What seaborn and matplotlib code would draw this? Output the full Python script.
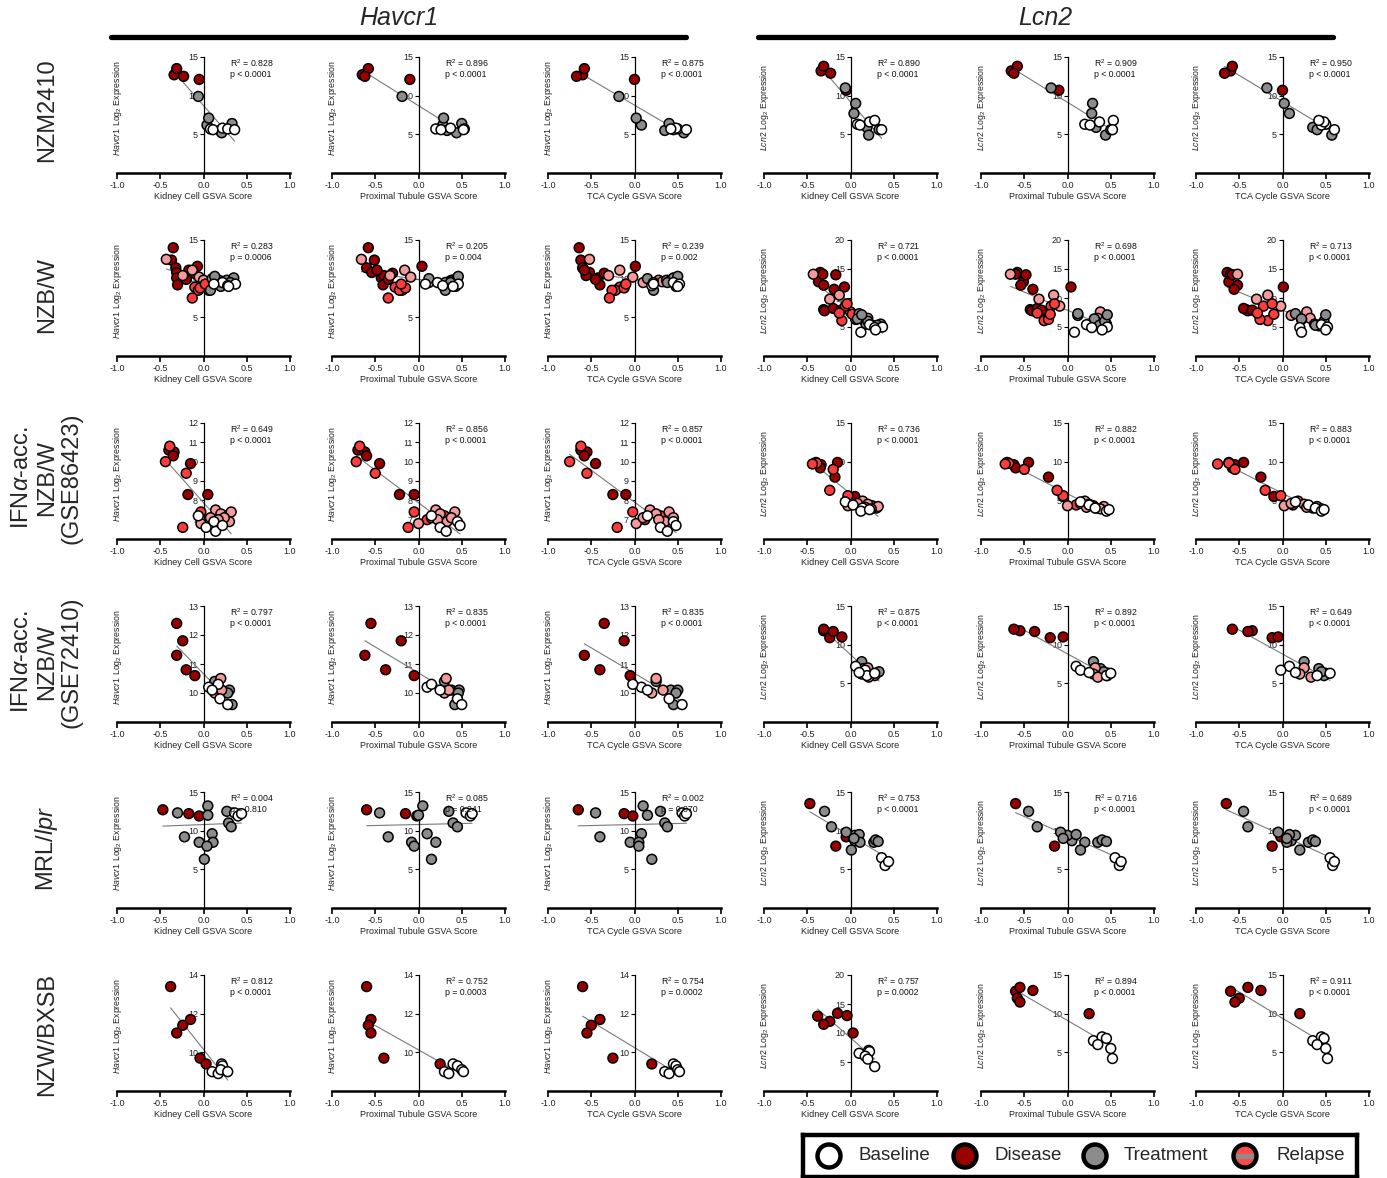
import numpy as np
import pandas as pd
import matplotlib
matplotlib.use("Agg")
import matplotlib.pyplot as plt
from matplotlib.lines import Line2D
from matplotlib.patches import Circle, Rectangle
import seaborn as sns

sns.set_theme(style="white")
plt.rcParams["font.family"] = ["Liberation Sans", "DejaVu Sans"]
plt.rcParams["mathtext.fontset"] = "custom"
plt.rcParams["mathtext.rm"] = "Liberation Sans"
plt.rcParams["mathtext.it"] = "Liberation Sans:italic"
plt.rcParams["mathtext.bf"] = "Liberation Sans:bold"

# ---------------- data ----------------
# group codes: B baseline, D disease, T treatment, R relapse, L relapse (late)
nzm_group = ["D", "D", "D", "D", "T", "T", "T", "T", "T", "T", "B", "B", "B", "B", "B"]
nzm_kidney = [-0.34, -0.31, -0.23, -0.05, -0.06, 0.04, 0.06, 0.19, 0.21, 0.33, 0.08, 0.11, 0.22, 0.28, 0.36]
nzm_pt = [-0.65, -0.58, -0.62, -0.10, -0.19, 0.28, 0.29, 0.33, 0.44, 0.50, 0.20, 0.26, 0.37, 0.53, 0.52]
nzm_tca = [-0.60, -0.58, -0.67, 0.00, -0.18, 0.08, 0.02, 0.35, 0.57, 0.40, 0.50, 0.45, 0.48, 0.42, 0.60]
nzm_havcr1 = [12.7, 13.5, 12.5, 12.1, 9.9, 6.2, 7.1, 5.5, 5.2, 6.4, 5.7, 5.6, 5.8, 5.7, 5.6]
nzm_lcn2 = [13.2, 13.8, 12.9, 10.7, 11.0, 7.7, 9.0, 5.9, 4.9, 5.6, 6.3, 6.2, 6.6, 6.8, 5.6]

nzbw_group = (["D"] * 11) + (["L"] * 7) + (["R"] * 6) + (["T"] * 9) + (["B"] * 5)
nzbw_kidney = [-0.35, -0.37, -0.32, -0.31, -0.31, -0.30, -0.19, -0.17, -0.07, -0.20, -0.11,
               -0.43, -0.13, -0.24, -0.05, 0.05, 0.00, 0.20,
               -0.10, -0.06, 0.06, -0.13, -0.04, 0.02,
               0.10, 0.14, 0.08, 0.18, 0.27, 0.35, 0.31, 0.20, 0.13,
               0.22, 0.28, 0.37, 0.12, 0.29]
nzbw_pt = [-0.58, -0.51, -0.60, -0.54, -0.43, -0.41, -0.40, -0.48, 0.04, -0.35, -0.30,
           -0.66, -0.16, -0.33, -0.09, 0.12, 0.38, 0.35,
           -0.27, -0.19, -0.22, -0.35, -0.15, -0.20,
           0.12, 0.31, 0.31, 0.40, 0.43, 0.45, 0.37, 0.43, 0.46,
           0.22, 0.28, 0.46, 0.08, 0.40]
nzbw_tca = [-0.64, -0.62, -0.60, -0.52, -0.42, -0.40, -0.56, -0.58, 0.01, -0.45, -0.35,
            -0.52, -0.17, -0.30, -0.02, 0.10, 0.28, 0.32,
            -0.17, -0.22, -0.26, -0.29, -0.12, -0.10,
            0.15, 0.22, 0.22, 0.37, 0.42, 0.45, 0.38, 0.48, 0.50,
            0.45, 0.20, 0.52, 0.22, 0.50]
nzbw_havcr1 = [14.0, 12.4, 11.4, 10.8, 10.1, 9.2, 10.4, 11.1, 11.6, 9.9, 10.7,
               12.5, 11.1, 10.4, 10.2, 9.5, 9.8, 9.6,
               8.9, 8.5, 8.5, 7.5, 8.8, 9.3,
               10.0, 9.5, 8.5, 9.8, 9.8, 10.1, 9.5, 9.0, 10.3,
               9.5, 9.1, 9.3, 9.3, 9.0]
nzbw_lcn2 = [14.4, 12.8, 14.1, 12.2, 8.0, 7.8, 11.5, 14.0, 11.9, 8.2, 7.9,
             14.1, 10.5, 9.8, 8.6, 7.0, 7.6, 6.5,
             6.1, 8.6, 6.3, 7.4, 9.0, 7.2,
             7.3, 6.3, 6.4, 5.5, 5.2, 5.5, 5.3, 6.0, 7.1,
             5.4, 4.9, 5.0, 4.1, 4.5]

gse86_group = (["D"] * 6) + (["R"] * 7) + (["L"] * 8) + (["B"] * 5)
gse86_kidney = [-0.40, -0.34, -0.35, -0.15, -0.18, 0.05,
                -0.39, -0.44, -0.20, -0.03, -0.24, 0.08, 0.25,
                -0.03, 0.14, 0.08, 0.20, 0.30, 0.32, 0.24, 0.17,
                -0.06, 0.03, 0.14, 0.12, 0.22]
gse86_pt = [-0.70, -0.62, -0.60, -0.45, -0.22, -0.05,
            -0.68, -0.72, -0.50, -0.05, -0.12, 0.10, 0.30,
            0.00, 0.20, 0.15, 0.25, 0.33, 0.42, 0.38, 0.22,
            0.15, 0.25, 0.32, 0.45, 0.48]
gse86_tca = [-0.62, -0.55, -0.58, -0.45, -0.25, -0.10,
             -0.62, -0.75, -0.55, -0.02, -0.20, 0.12, 0.30,
             0.02, 0.18, 0.10, 0.25, 0.35, 0.40, 0.45, 0.28,
             0.15, 0.30, 0.38, 0.45, 0.48]
gse86_havcr1 = [10.6, 10.5, 10.3, 9.9, 8.3, 8.3,
                10.8, 10.0, 9.4, 7.4, 6.6, 7.0, 7.2,
                6.8, 7.5, 7.1, 7.3, 6.9, 7.4, 7.1, 7.0,
                7.2, 6.6, 6.4, 6.9, 6.7]
gse86_lcn2 = [9.9, 9.6, 9.2, 9.9, 8.0, 5.5,
              9.8, 9.7, 9.0, 5.6, 6.3, 4.4, 4.3,
              4.3, 4.9, 4.6, 4.5, 4.0, 4.2, 3.9, 4.1,
              4.8, 4.4, 4.0, 3.6, 3.8]

gse72_group = (["D"] * 5) + (["T"] * 5) + (["L"] * 3) + (["B"] * 5)
gse72_kidney = [-0.31, -0.24, -0.31, -0.20, -0.10,
                0.13, 0.15, 0.30, 0.28, 0.33,
                0.20, 0.13, 0.21,
                0.06, 0.17, 0.19, 0.28, 0.10]
gse72_pt = [-0.55, -0.20, -0.62, -0.38, -0.05,
            0.30, 0.38, 0.47, 0.46, 0.42,
            0.32, 0.30, 0.35,
            0.10, 0.15, 0.45, 0.50, 0.25]
gse72_tca = [-0.35, -0.12, -0.58, -0.40, -0.05,
             0.25, 0.42, 0.50, 0.48, 0.45,
             0.25, 0.20, 0.33,
             0.08, -0.02, 0.40, 0.55, 0.15]
gse72_havcr1 = [12.4, 11.8, 11.3, 10.8, 10.6,
                10.4, 10.1, 10.1, 10.0, 9.6,
                10.5, 10.0, 10.1,
                10.2, 10.3, 9.8, 9.6, 10.1]
gse72_lcn2 = [11.8, 10.9, 12.0, 11.7, 11.0,
              7.8, 6.9, 6.3, 6.0, 6.5,
              7.0, 6.2, 5.8,
              7.2, 6.7, 6.0, 6.3, 6.4]

mrl_group = (["D"] * 3) + (["T"] * 12) + (["B"] * 3)
mrl_kidney = [-0.47, -0.17, -0.05,
              -0.30, 0.05, 0.05, 0.27, 0.29, 0.32, -0.22, 0.10, -0.05, 0.11, 0.04, 0.01,
              0.36, 0.40, 0.44]
mrl_pt = [-0.60, -0.15, -0.02,
          -0.45, 0.05, 0.00, 0.35, 0.40, 0.45, -0.35, 0.10, -0.08, 0.20, -0.05, 0.15,
          0.55, 0.60, 0.62]
mrl_tca = [-0.65, -0.12, -0.02,
           -0.45, 0.10, 0.15, 0.30, 0.35, 0.38, -0.40, 0.08, -0.05, 0.05, 0.05, 0.20,
           0.55, 0.58, 0.60]
mrl_havcr1 = [12.7, 12.2, 11.9,
              12.3, 13.2, 12.0, 12.5, 11.0, 10.5, 9.2, 9.6, 8.5, 8.5, 8.0, 6.3,
              12.3, 11.9, 12.2]
mrl_lcn2 = [13.5, 8.0, 9.2,
            12.5, 8.7, 9.4, 8.5, 8.8, 8.6, 10.5, 9.5, 9.8, 8.5, 9.0, 7.5,
            6.5, 5.5, 6.0]

bxsb_group = (["D"] * 6) + (["B"] * 6)
bxsb_kidney = [-0.38, -0.15, -0.24, -0.31, -0.04, 0.03, 0.10, 0.21, 0.22, 0.17, 0.20, 0.28]
bxsb_pt = [-0.60, -0.55, -0.58, -0.55, -0.40, 0.25, 0.30, 0.40, 0.45, 0.35, 0.50, 0.52]
bxsb_tca = [-0.60, -0.40, -0.50, -0.55, -0.25, 0.20, 0.35, 0.45, 0.48, 0.40, 0.50, 0.52]
bxsb_havcr1 = [13.4, 11.7, 11.4, 11.0, 9.7, 9.4, 9.0, 9.4, 9.3, 8.9, 9.1, 9.0]
bxsb_lcn2 = [12.9, 13.4, 12.0, 11.5, 13.0, 10.0, 6.5, 7.0, 6.8, 6.0, 5.5, 4.2]

# statistics printed in each panel (Havcr1 x3, Lcn2 x3)
nzm_r2 = ["0.828", "0.896", "0.875", "0.890", "0.909", "0.950"]
nzm_p = ["p < 0.0001"] * 6
nzbw_r2 = ["0.283", "0.205", "0.239", "0.721", "0.698", "0.713"]
nzbw_p = ["p = 0.0006", "p = 0.004", "p = 0.002", "p < 0.0001", "p < 0.0001", "p < 0.0001"]
gse86_r2 = ["0.649", "0.856", "0.857", "0.736", "0.882", "0.883"]
gse86_p = ["p < 0.0001"] * 6
gse72_r2 = ["0.797", "0.835", "0.835", "0.875", "0.892", "0.649"]
gse72_p = ["p < 0.0001"] * 6
mrl_r2 = ["0.004", "0.085", "0.002", "0.753", "0.716", "0.689"]
mrl_p = ["p = 0.810", "p = 0.241", "p = 0.870", "p < 0.0001", "p < 0.0001", "p < 0.0001"]
bxsb_r2 = ["0.812", "0.752", "0.754", "0.757", "0.894", "0.911"]
bxsb_p = ["p < 0.0001", "p = 0.0003", "p = 0.0002", "p = 0.0002", "p < 0.0001", "p < 0.0001"]

row_labels = ["NZM2410", "NZB/W", "IFN$\\alpha$-acc.\nNZB/W\n(GSE86423)",
              "IFN$\\alpha$-acc.\nNZB/W\n(GSE72410)", "MRL/$\\it{lpr}$", "NZW/BXSB"]
genes = ["Havcr1", "Lcn2"]
score_labels = ["Kidney Cell GSVA Score", "Proximal Tubule GSVA Score", "TCA Cycle GSVA Score"]
legend_labels = ["Baseline", "Disease", "Treatment", "Relapse"]

# ---------------- assemble ----------------
datasets = [
    (nzm_group, nzm_kidney, nzm_pt, nzm_tca, nzm_havcr1, nzm_lcn2, nzm_r2, nzm_p),
    (nzbw_group, nzbw_kidney, nzbw_pt, nzbw_tca, nzbw_havcr1, nzbw_lcn2, nzbw_r2, nzbw_p),
    (gse86_group, gse86_kidney, gse86_pt, gse86_tca, gse86_havcr1, gse86_lcn2, gse86_r2, gse86_p),
    (gse72_group, gse72_kidney, gse72_pt, gse72_tca, gse72_havcr1, gse72_lcn2, gse72_r2, gse72_p),
    (mrl_group, mrl_kidney, mrl_pt, mrl_tca, mrl_havcr1, mrl_lcn2, mrl_r2, mrl_p),
    (bxsb_group, bxsb_kidney, bxsb_pt, bxsb_tca, bxsb_havcr1, bxsb_lcn2, bxsb_r2, bxsb_p),
]

palette = {"B": "#FFFFFF", "D": "#990000", "T": "#8C8C8C", "R": "#FF3B3B", "L": "#F49A9A"}
group_order = ["B", "T", "D", "L", "R"]

# y-axis layout per (row, gene): (lower, upper, ticks)
Y15 = (0, 15, [5, 10, 15])
Y20 = (0, 20, [5, 10, 15, 20])
y_axes = {
    (0, 0): Y15, (0, 1): Y15,
    (1, 0): Y15, (1, 1): Y20,
    (2, 0): (6, 12, [7, 8, 9, 10, 11, 12]), (2, 1): Y15,
    (3, 0): (9, 13, [10, 11, 12, 13]), (3, 1): Y15,
    (4, 0): Y15, (4, 1): Y15,
    (5, 0): (8, 14, [10, 12, 14]), (5, 1): Y15,
}
y_axes_override = {(5, 3): Y20}
bold_rows = {0, 2}

W, H = 1387, 1178
fig = plt.figure(figsize=(W / 100, H / 100), dpi=100)
col_left = [117, 332, 548, 764, 981, 1196]
row_bottom = [173, 356, 539, 722, 908, 1091]
AX_W, AX_H = 173, 116


def add_px_axes(x, ybottom, w, h):
    return fig.add_axes([x / W, 1 - ybottom / H, w / W, h / H])


for r, (grp, kid, pt, tca, hav, lcn, r2s, ps) in enumerate(datasets):
    df = pd.DataFrame({"group": grp, "kidney": kid, "pt": pt, "tca": tca,
                       "Havcr1": hav, "Lcn2": lcn})
    for c in range(6):
        gene = genes[c // 3]
        score = ["kidney", "pt", "tca"][c % 3]
        ax = add_px_axes(col_left[c], row_bottom[r], AX_W, AX_H)
        lo, hi, ticks = y_axes_override.get((r, c), y_axes[(r, c // 3)])

        sns.regplot(data=df, x=score, y=gene, ax=ax, scatter=False, ci=None,
                    truncate=True, color="#7a7a7a", line_kws={"lw": 0.8, "zorder": 1})
        sns.scatterplot(data=df, x=score, y=gene, hue="group", hue_order=group_order,
                        palette=palette, edgecolor="black", linewidth=1.1, s=50,
                        legend=False, ax=ax, zorder=3, clip_on=False)

        ax.set_xlim(-1, 1)
        ax.set_ylim(lo, hi)
        ax.set_xticks([-1, -0.5, 0, 0.5, 1])
        ax.set_xticklabels(["-1.0", "-0.5", "0.0", "0.5", "1.0"])
        ax.set_yticks(ticks)
        ax.set_yticklabels([str(t) for t in ticks],
                           fontweight="bold" if r in bold_rows else "normal")
        for s in ["top", "right"]:
            ax.spines[s].set_visible(False)
        ax.spines["left"].set_position(("data", 0))
        ax.spines["left"].set_linewidth(0.9)
        ax.spines["bottom"].set_linewidth(1.8)
        ax.spines["left"].set_color("black")
        ax.spines["bottom"].set_color("black")
        ax.tick_params(axis="x", direction="out", length=4, width=1.2, labelsize=6.5,
                       pad=1.5, colors="black", labelcolor="#222222", bottom=True)
        ax.tick_params(axis="y", direction="out", length=3, width=0.8, labelsize=6.5,
                       pad=1, colors="black", labelcolor="#222222", left=True)
        ax.set_xlabel(score_labels[c % 3], fontsize=6.5, labelpad=2, color="#222222")
        ax.set_ylabel(f"$\\it{{{gene}}}$ Log$_2$ Expression", fontsize=6.3, color="#222222")
        ax.yaxis.set_label_coords(0.04, 0.56)
        ax.text(0.655, 1.0, f"R$^2$ = {r2s[c]}\n{ps[c]}", transform=ax.transAxes,
                fontsize=6.3, va="top", ha="left", linespacing=1.25, color="#111111")
        ax.set_facecolor("none")

# gene headers with bars
for label, x0, x1 in [("Havcr1", 111, 686), ("Lcn2", 758, 1333)]:
    fig.text((x0 + x1) / 2 / W, 1 - 18 / H, label, style="italic", fontsize=18,
             ha="center", va="center")
    fig.add_artist(Line2D([x0 / W, x1 / W], [1 - 37 / H] * 2, lw=3.8, color="black"))

# strain labels
row_label_y = [110, 295, 478, 662, 848, 1035]
for lab, yy in zip(row_labels, row_label_y):
    fig.text(47 / W, 1 - yy / H, lab, rotation=90, ha="center", va="center",
             fontsize=17, linespacing=1.15)

# legend box
lx, ly, lw_, lh = 803, 1135, 554, 42
lax = add_px_axes(lx, ly + lh, lw_, lh)
lax.set_xlim(0, lw_)
lax.set_ylim(0, lh)
lax.set_xticks([])
lax.set_yticks([])
for s in lax.spines.values():
    s.set_linewidth(3.2)
    s.set_color("black")
marker_x = [26, 162, 292, 442]
text_x = [55, 192, 321, 473]
marker_fill = ["#FFFFFF", "#990000", "#8C8C8C", "#FF4A4A"]
for i, lab in enumerate(legend_labels):
    cx, cy, rad = marker_x[i], lh / 2, 11.5
    circ = Circle((cx, cy), rad, facecolor=marker_fill[i], edgecolor="none", zorder=2)
    lax.add_patch(circ)
    if lab == "Relapse":
        stripe = Rectangle((cx - rad, cy - 2.5), 2 * rad, 5, facecolor="#8C8C8C",
                           edgecolor="none", zorder=3)
        lax.add_patch(stripe)
        stripe.set_clip_path(circ)
    lax.add_patch(Circle((cx, cy), rad, facecolor="none", edgecolor="black", lw=3.2, zorder=4))
    lax.text(text_x[i], cy, lab, fontsize=13.5, va="center", ha="left")

fig.savefig("out.png", dpi=100, facecolor="white")
